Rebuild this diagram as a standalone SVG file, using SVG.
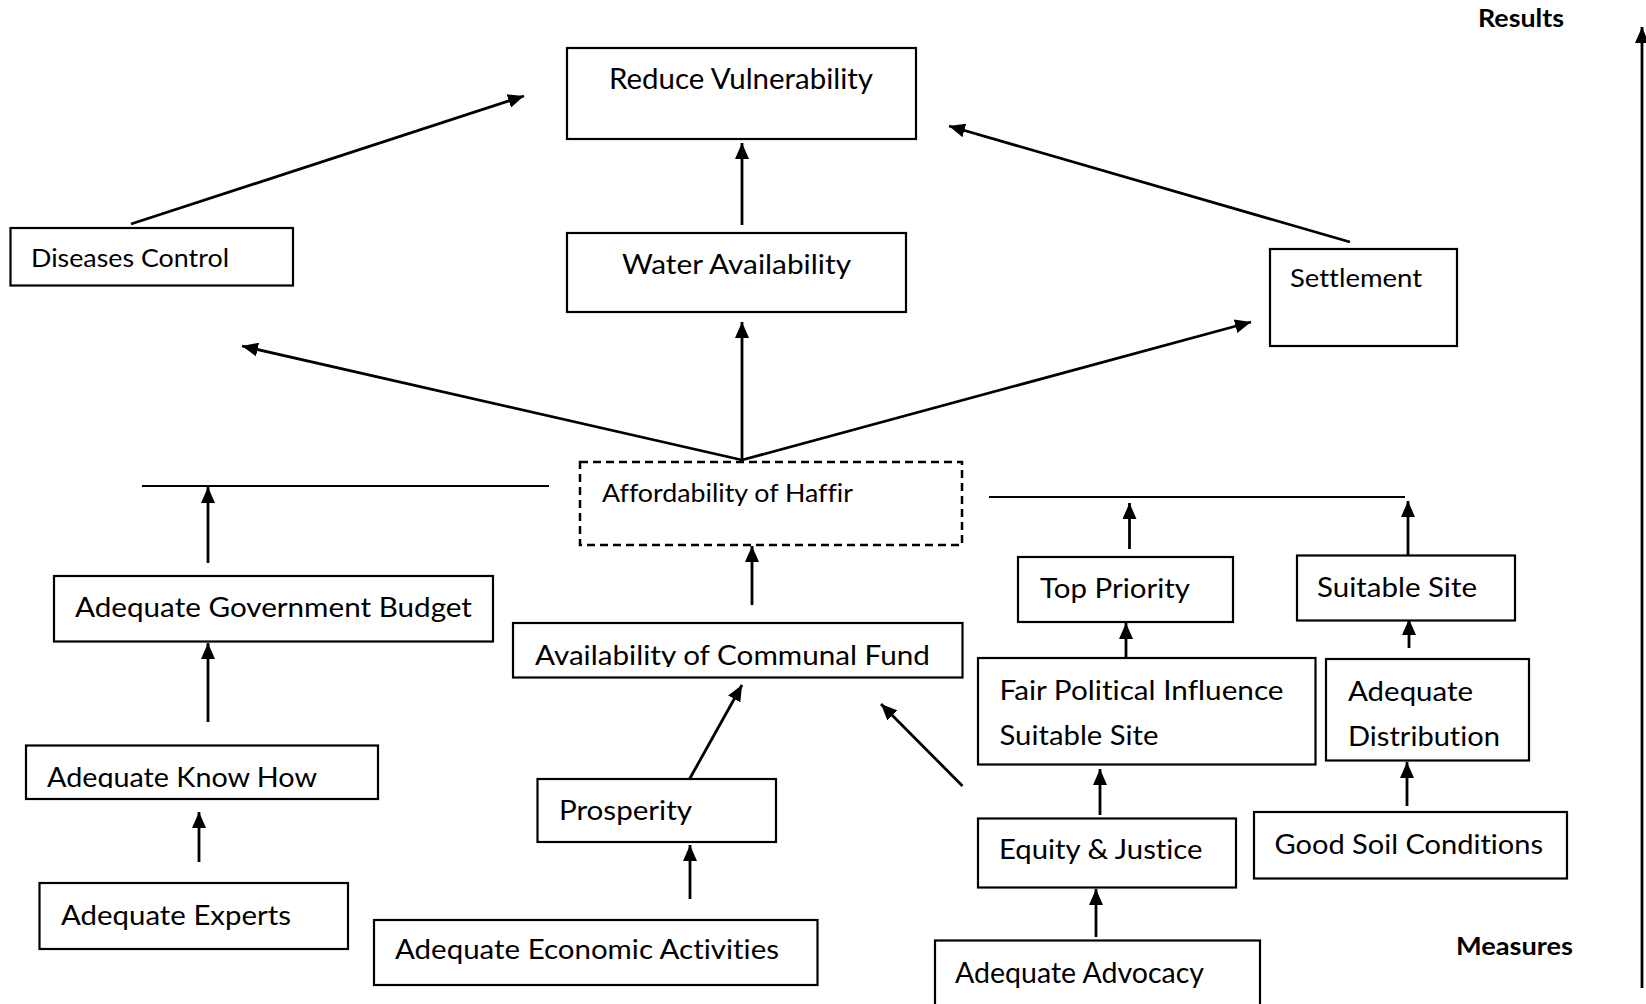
<svg xmlns="http://www.w3.org/2000/svg" width="1646" height="1004" viewBox="0 0 1646 1004">
<style>
.box{fill:#fff;stroke:#000;stroke-width:2.2}
.dash{fill:none;stroke:#000;stroke-width:2.5;stroke-dasharray:8 5}
.t{font-family:Lato,"Liberation Sans",sans-serif;fill:#000;font-variant-ligatures:none}
.b{font-family:Lato,"Liberation Sans",sans-serif;font-weight:bold;fill:#000}
.c line{stroke:#000;stroke-width:2.8}
.arr{marker-end:url(#ah)}
</style>
<defs>
<marker id="ah" markerUnits="userSpaceOnUse" markerWidth="17" markerHeight="14" refX="16" refY="7" orient="auto">
<path d="M0,0 L16,7 L0,14 z" fill="#000"/>
</marker>
<clipPath id="clipKH"><rect x="26" y="745" width="352" height="43"/></clipPath>
<clipPath id="clipCF"><rect x="513" y="623" width="450" height="44"/></clipPath>
</defs>
<rect width="1646" height="1004" fill="#fff"/>

<g id="connectors" class="c">
<line class="arr" x1="131" y1="224" x2="524" y2="96"/>
<line class="arr" x1="742" y1="225" x2="742" y2="143"/>
<line class="arr" x1="1350" y1="242" x2="949" y2="126"/>
<line class="arr" x1="742" y1="460" x2="242" y2="346"/>
<line class="arr" x1="742" y1="460" x2="742" y2="322"/>
<line class="arr" x1="742" y1="460" x2="1251" y2="322"/>
<line x1="142" y1="486" x2="549" y2="486" style="stroke-width:2.2"/>
<line class="arr" x1="208" y1="563" x2="208" y2="487"/>
<line x1="989" y1="497" x2="1405" y2="497" style="stroke-width:2.2"/>
<line class="arr" x1="1129.5" y1="549" x2="1129.5" y2="503"/>
<line class="arr" x1="1408" y1="556" x2="1408" y2="501"/>
<line class="arr" x1="752" y1="605" x2="752" y2="546"/>
<line class="arr" x1="208" y1="722" x2="208" y2="643"/>
<line class="arr" x1="199" y1="862" x2="199" y2="812"/>
<line class="arr" x1="689" y1="780" x2="742" y2="685"/>
<line class="arr" x1="962.5" y1="786" x2="881" y2="704"/>
<line class="arr" x1="690" y1="899" x2="690" y2="845"/>
<line class="arr" x1="1126" y1="658" x2="1126" y2="623"/>
<line class="arr" x1="1409" y1="648" x2="1409" y2="619"/>
<line class="arr" x1="1100" y1="815" x2="1100" y2="769"/>
<line class="arr" x1="1407" y1="806" x2="1407" y2="762"/>
<line class="arr" x1="1096" y1="937" x2="1096" y2="889"/>
<line class="arr" x1="1642" y1="988" x2="1642" y2="27"/>
</g>

<g id="reduce-vulnerability">
<rect class="box" x="567" y="48" width="349" height="91"/>
<text class="t" x="609" y="89" font-size="28" textLength="264" lengthAdjust="spacingAndGlyphs">Reduce Vulnerability</text>
</g>
<g id="diseases-control">
<rect class="box" x="10.5" y="228" width="282.5" height="57.5"/>
<text class="t" x="31" y="267" font-size="25" textLength="198" lengthAdjust="spacingAndGlyphs">Diseases Control</text>
</g>
<g id="water-availability">
<rect class="box" x="567" y="233" width="339" height="79"/>
<text class="t" x="622" y="274" font-size="27" textLength="229" lengthAdjust="spacingAndGlyphs">Water Availability</text>
</g>
<g id="settlement">
<rect class="box" x="1270" y="249" width="187" height="97"/>
<text class="t" x="1290" y="287" font-size="25" textLength="132" lengthAdjust="spacingAndGlyphs">Settlement</text>
</g>
<g id="affordability">
<rect class="dash" x="580" y="462" width="382" height="83"/>
<text class="t" x="602" y="501.5" font-size="25" textLength="251" lengthAdjust="spacingAndGlyphs">Affordability of Haffir</text>
</g>
<g id="gov-budget">
<rect class="box" x="54" y="576" width="439" height="65.5"/>
<text class="t" x="75" y="617" font-size="27" textLength="397" lengthAdjust="spacingAndGlyphs">Adequate Government Budget</text>
</g>
<g id="know-how">
<rect class="box" x="26" y="745.5" width="352" height="53.5"/>
<text class="t" x="47" y="787" font-size="27" textLength="270" lengthAdjust="spacingAndGlyphs" clip-path="url(#clipKH)">Adequate Know How</text>
</g>
<g id="experts">
<rect class="box" x="39.5" y="883" width="308.5" height="66"/>
<text class="t" x="61" y="925" font-size="27" textLength="230" lengthAdjust="spacingAndGlyphs">Adequate Experts</text>
</g>
<g id="communal-fund">
<rect class="box" x="513" y="623" width="449.5" height="54.5"/>
<text class="t" x="535" y="665" font-size="27" textLength="395" lengthAdjust="spacingAndGlyphs" clip-path="url(#clipCF)">Availability of Communal Fund</text>
</g>
<g id="prosperity">
<rect class="box" x="537.5" y="779" width="238.5" height="63"/>
<text class="t" x="559" y="820" font-size="27" textLength="133" lengthAdjust="spacingAndGlyphs">Prosperity</text>
</g>
<g id="economic-activities">
<rect class="box" x="374" y="920" width="443.5" height="65"/>
<text class="t" x="395" y="959" font-size="27" textLength="384" lengthAdjust="spacingAndGlyphs">Adequate Economic Activities</text>
</g>
<g id="top-priority">
<rect class="box" x="1018" y="557" width="215" height="65"/>
<text class="t" x="1040" y="598" font-size="27" textLength="150" lengthAdjust="spacingAndGlyphs">Top Priority</text>
</g>
<g id="suitable-site">
<rect class="box" x="1297" y="555.5" width="218" height="65"/>
<text class="t" x="1317" y="597" font-size="27" textLength="160" lengthAdjust="spacingAndGlyphs">Suitable Site</text>
</g>
<g id="fair-political">
<rect class="box" x="978" y="658" width="337.5" height="106.5"/>
<text class="t" x="999.5" y="700" font-size="27" textLength="284" lengthAdjust="spacingAndGlyphs">Fair Political Influence</text>
<text class="t" x="999.5" y="745" font-size="27" textLength="159" lengthAdjust="spacingAndGlyphs">Suitable Site</text>
</g>
<g id="adequate-distribution">
<rect class="box" x="1326" y="659" width="203" height="101.5"/>
<text class="t" x="1348" y="701" font-size="27" textLength="125" lengthAdjust="spacingAndGlyphs">Adequate</text>
<text class="t" x="1348" y="746" font-size="27" textLength="152" lengthAdjust="spacingAndGlyphs">Distribution</text>
</g>
<g id="equity-justice">
<rect class="box" x="978" y="818.5" width="258" height="69"/>
<text class="t" x="999" y="859" font-size="27" textLength="203.5" lengthAdjust="spacingAndGlyphs">Equity &amp; Justice</text>
</g>
<g id="good-soil">
<rect class="box" x="1254" y="812" width="313" height="66.5"/>
<text class="t" x="1274.5" y="854" font-size="27" textLength="268.5" lengthAdjust="spacingAndGlyphs">Good Soil Conditions</text>
</g>
<g id="advocacy">
<rect class="box" x="935" y="940.5" width="325" height="80"/>
<text class="t" x="955" y="983" font-size="28" textLength="249" lengthAdjust="spacingAndGlyphs">Adequate Advocacy</text>
</g>
<g id="results-label">
<text class="b" x="1478" y="27" font-size="25" textLength="86" lengthAdjust="spacingAndGlyphs">Results</text>
</g>
<g id="measures-label">
<text class="b" x="1456" y="955" font-size="25" textLength="117" lengthAdjust="spacingAndGlyphs">Measures</text>
</g>
</svg>
